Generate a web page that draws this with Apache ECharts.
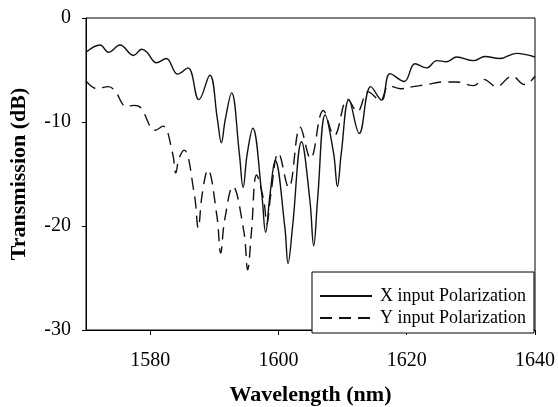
<!DOCTYPE html>
<html>
<head>
<meta charset="utf-8">
<script src="https://cdn.jsdelivr.net/npm/echarts@6/dist/echarts.min.js"></script>
<style>
html,body{margin:0;padding:0;background:#fff;}
#chart{width:558px;height:407px;}
</style>
</head>
<body>
<div id="chart"></div>
<script>
// ---- data ----
const xTickValues = [1580, 1600, 1620, 1640];
const yTickValues = [0, -10, -20, -30];
const seriesNames = ['X input Polarization', 'Y input Polarization'];

const xPolWavelength = [1570.0,1572.2,1573.5,1575.3,1577.4,1578.7,1579.5,1581.0,1582.5,1584.3,1585.9,1587.6,1589.3,1590.5,1591.1,1591.7,1592.7,1593.9,1594.5,1595.1,1596.0,1597.4,1598.0,1598.7,1599.5,1601.0,1601.5,1602.2,1603.6,1604.9,1605.5,1606.1,1607.3,1608.6,1609.2,1609.8,1611.0,1612.6,1614.4,1616.1,1617.4,1619.6,1621.3,1623.1,1624.7,1626.2,1627.8,1630.4,1632.2,1634.5,1637.1,1640.0];
const xPolTransmission = [-3.3,-2.6,-3.3,-2.6,-3.6,-3.0,-3.3,-4.3,-3.9,-5.4,-4.8,-7.85,-5.5,-9.8,-12.0,-9.8,-7.2,-13.0,-16.3,-13.2,-10.6,-16.9,-20.6,-16.9,-13.7,-20.1,-23.6,-20.1,-11.9,-17.5,-21.9,-17.5,-9.3,-13.0,-16.2,-13.0,-7.85,-11.1,-6.6,-7.9,-5.35,-6.1,-4.4,-4.8,-4.1,-4.2,-3.75,-4.1,-3.7,-3.9,-3.4,-3.75];

const yPolWavelength = [1570.0,1571.7,1573.5,1574.5,1576.3,1577.5,1578.5,1580.8,1582.0,1583.5,1584.0,1584.5,1585.3,1586.9,1587.5,1588.1,1589.0,1590.4,1591.0,1591.6,1592.9,1594.6,1595.2,1595.8,1596.6,1597.7,1598.2,1598.8,1600.0,1601.6,1603.4,1605.0,1607.0,1608.7,1610.8,1612.3,1614.0,1615.9,1617.2,1619.0,1621.0,1623.1,1625.7,1627.8,1630.4,1632.0,1634.0,1636.4,1638.4,1640.0];
const yPolTransmission = [-6.05,-6.8,-6.6,-7.0,-8.5,-8.4,-8.6,-10.8,-10.4,-13.0,-14.9,-13.5,-12.7,-17.0,-20.2,-17.0,-14.6,-19.0,-22.6,-19.5,-16.2,-20.5,-24.2,-20.5,-15.1,-17.5,-19.8,-17.0,-13.0,-16.3,-10.5,-13.5,-8.9,-11.3,-7.8,-9.0,-7.1,-7.9,-6.5,-6.8,-6.6,-6.4,-6.15,-6.15,-6.5,-5.9,-6.6,-5.6,-6.4,-5.6];

const pairs = (xs, ys) => xs.map((x, i) => [x, ys[i]]);

const serifFont = '"Liberation Serif", "DejaVu Serif", serif';
const chart = echarts.init(document.getElementById('chart'), null, {renderer: 'canvas'});
chart.setOption({
  backgroundColor: '#ffffff',
  animation: false,
  grid: {
    left: 86, right: 23, top: 18, bottom: 77,
    outerBoundsMode: 'none', containLabel: false,
    show: true, borderColor: '#000', borderWidth: 1, backgroundColor: 'transparent'
  },
  legend: {
    data: seriesNames,
    orient: 'vertical',
    left: 312, top: 272,
    backgroundColor: '#fff',
    borderColor: '#000', borderWidth: 1, borderRadius: 0,
    padding: [15, 8, 6, 7],
    itemWidth: 52, itemHeight: 14, itemGap: 4,
    itemStyle: {opacity: 0},
    textStyle: {fontFamily: serifFont, fontSize: 18, color: '#000', padding: [0, 0, 0, 3]}
  },
  xAxis: {
    type: 'value', min: 1570, max: 1640,
    name: 'Wavelength (nm)', nameLocation: 'middle', nameGap: 54,
    nameTextStyle: {fontFamily: serifFont, fontSize: 22, fontWeight: 'bold', color: '#000'},
    axisLine: {show: true, onZero: false, lineStyle: {color: '#000', width: 1}},
    axisTick: {show: true, length: 5, customValues: xTickValues, lineStyle: {color: '#000'}},
    axisLabel: {customValues: xTickValues, formatter: v => String(v), fontFamily: serifFont, fontSize: 20, color: '#000', margin: 21},
    splitLine: {show: false}
  },
  yAxis: {
    type: 'value', min: -30, max: 0, interval: 10,
    name: 'Transmission (dB)', nameLocation: 'middle', nameGap: 56,
    nameTextStyle: {fontFamily: serifFont, fontSize: 22, fontWeight: 'bold', color: '#000'},
    axisLine: {show: true, lineStyle: {color: '#000', width: 1}},
    axisTick: {show: true, length: 4, customValues: yTickValues, lineStyle: {color: '#000'}},
    axisLabel: {customValues: yTickValues, formatter: v => String(v), fontFamily: serifFont, fontSize: 20, color: '#000', margin: 15},
    splitLine: {show: false}
  },
  series: [
    {
      name: seriesNames[0], type: 'line', data: pairs(xPolWavelength, xPolTransmission),
      smooth: 0.4, symbol: 'none',
      lineStyle: {color: '#111', width: 1.4, type: 'solid'},
      itemStyle: {color: '#111'}
    },
    {
      name: seriesNames[1], type: 'line', data: pairs(yPolWavelength, yPolTransmission),
      smooth: 0.4, symbol: 'none',
      lineStyle: {color: '#111', width: 1.4, type: [12, 7]},
      itemStyle: {color: '#111'}
    }
  ]
});
</script>
</body>
</html>
